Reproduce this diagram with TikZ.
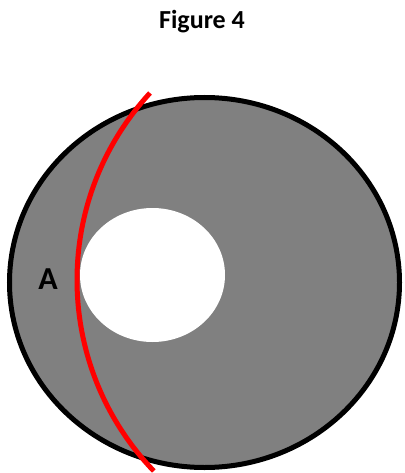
\documentclass[tikz,border=0pt]{standalone}
\usepackage{fontspec}
\setmainfont{Carlito}
\usetikzlibrary{positioning, calc}
\definecolor{discgray}{HTML}{808080}
\definecolor{cutred}{HTML}{FF0000}

\begin{document}
\begin{tikzpicture}[
      x=1pt, y=-1pt,
      label/.style={font=\bfseries, inner sep=0pt},
      rim/.style={line width=5pt, draw=black, fill=discgray},
      cutline/.style={line width=5pt, draw=cutred}
    ]
      \useasboundingbox (0,0) rectangle (404,473);
      % title
      \node[label, font=\fontsize{26}{28}\bfseries\selectfont] (title) at (202,22) {Figure 4};
      % disc with hole
      \draw[rim] (204.5,282.5) ellipse[x radius=195, y radius=185];
      \fill[white] (152.5,275) ellipse[x radius=72.5, y radius=67];
      % red cut
      \coordinate (cuttop) at (150,93);
      \draw[cutline] (cuttop) arc[start angle=222.65, end angle=136.2, radius=276];
      \node[label, font=\fontsize{32}{34}\bfseries\selectfont] (A) at (48,279) {A};
    \end{tikzpicture}
\end{document}
